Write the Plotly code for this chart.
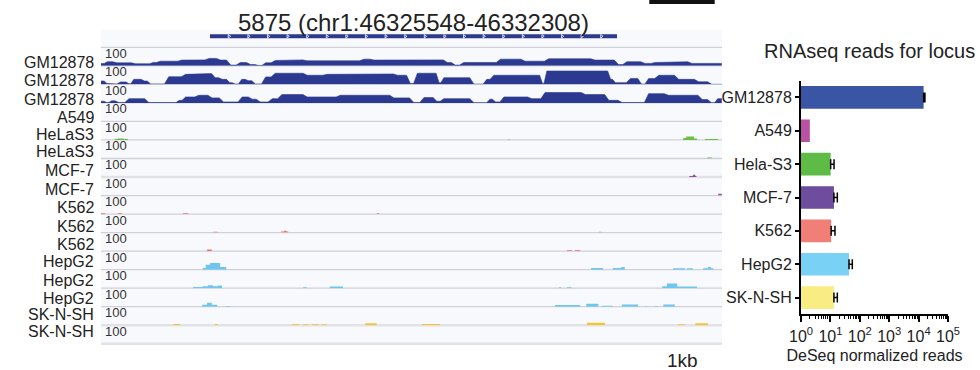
import numpy as np
import plotly.graph_objects as go

W, H = 980, 370
FONT = "Liberation Sans, Arial, sans-serif"

# ---------------- locus ----------------
LOCUS_ID = "5875"
CHROM = "chr1"
GENE_START = 46325548
GENE_END = 46332308
WINDOW_START = 46323738          # left edge of browser window
WINDOW_END = 46334052            # right edge of browser window
SCALE_LABEL = "1kb"

track_labels = ["GM12878", "GM12878", "GM12878", "A549", "HeLaS3", "HeLaS3",
                "MCF-7", "MCF-7", "K562", "K562", "K562",
                "HepG2", "HepG2", "HepG2", "SK-N-SH", "SK-N-SH"]
track_scale_max = 100

# dense coverage tracks: breakpoints (kb from window start) and value per interval
gm1_pos = [0.00, 0.07, 0.23, 0.54, 0.84, 0.95, 1.31, 1.59, 1.76, 1.95,
           2.12, 2.28, 2.45, 2.59, 2.70, 2.86, 3.08, 3.39, 4.33, 4.50,
           4.83, 5.05, 5.33, 5.72, 5.85, 5.99, 6.60, 6.79, 7.01, 7.40,
           8.17, 8.56, 8.70, 9.00, 9.17, 9.45, 9.78, 9.95, 10.11, 10.31]
gm1_val = [12, 22, 16, 11, 18, 25, 31, 32, 40, 31,
           4, 18, 7, 2, 16, 29, 32, 27, 36, 31,
           34, 31, 32, 18, 4, 18, 36, 36, 25, 38,
           31, 7, 22, 13, 18, 22, 13, 11, 13]

gm2_pos = [0.00, 0.07, 0.18, 0.29, 0.45, 0.51, 0.70, 0.79, 1.09, 1.37,
           1.64, 1.87, 1.98, 2.12, 2.20, 2.31, 2.42, 2.53, 2.70, 2.86,
           3.39, 3.72, 4.33, 4.89, 5.11, 5.22, 5.60, 5.66, 6.16, 6.38,
           6.49, 6.79, 7.32, 7.37, 8.45, 8.51, 8.76, 8.95, 9.06, 9.23,
           9.56, 9.89, 10.11, 10.31]
gm2_val = [18, 5, 2, 13, 3, 27, 18, 2, 41, 54,
           58, 36, 27, 9, 2, 27, 20, 2, 40, 60,
           49, 54, 56, 49, 5, 60, 9, 36, 1, 27,
           49, 49, 5, 72, 27, 9, 32, 1, 31, 49,
           27, 14, 0]

gm3_pos = [0.00, 0.07, 0.15, 0.26, 0.43, 0.76, 1.28, 1.37, 1.59, 1.81,
           2.00, 2.31, 2.48, 2.61, 2.81, 2.97, 3.39, 3.94, 4.83, 5.16,
           5.33, 5.55, 5.66, 6.16, 6.44, 6.52, 6.66, 6.79, 7.12, 7.34,
           8.01, 8.40, 8.62, 9.06, 9.39, 9.95, 10.11, 10.22, 10.31]
gm3_val = [9, 2, 11, 2, 23, 2, 14, 32, 41, 27,
           5, 32, 20, 5, 23, 45, 32, 41, 27, 2,
           29, 9, 23, 1, 20, 5, 32, 32, 23, 56,
           45, 14, 2, 50, 41, 18, 1, 23]

# sparse coverage tracks: (start kb, end kb, value)
a549_seg = []
hela1_seg = [(0.23, 0.28, 5), (0.28, 0.38, 8), (0.38, 0.45, 5), (6.76, 6.79, 3),
             (9.67, 9.72, 10), (9.72, 9.85, 18), (9.85, 9.90, 8), (10.03, 10.25, 5)]
hela2_seg = [(10.07, 10.15, 5)]
mcf1_seg = [(9.32, 9.37, 3), (9.77, 9.83, 5), (9.83, 9.87, 12), (9.87, 9.89, 5)]
mcf2_seg = [(4.50, 4.60, 4), (10.25, 10.31, 9)]
k1_seg = [(0.00, 0.07, 5), (0.28, 0.35, 4), (1.36, 1.45, 5), (4.58, 4.62, 5)]
k2_seg = [(1.68, 1.71, 4), (1.86, 1.94, 5), (2.99, 3.04, 6), (3.04, 3.08, 10),
          (3.08, 3.11, 6), (8.27, 8.31, 5)]
k3_seg = [(1.76, 1.84, 9), (7.74, 7.82, 5), (7.87, 7.96, 5)]
hep1_seg = [(1.69, 1.74, 9), (1.74, 1.81, 27), (1.81, 1.98, 36), (1.98, 2.08, 14),
            (8.14, 8.34, 9), (8.50, 8.64, 9), (8.64, 8.70, 14), (9.50, 9.70, 7),
            (9.73, 9.83, 7), (10.00, 10.08, 7), (10.08, 10.13, 14), (10.13, 10.17, 7)]
hep2_seg = [(1.53, 1.69, 7), (1.69, 1.78, 11), (1.78, 1.86, 16), (1.86, 1.94, 11),
            (1.94, 2.01, 14), (3.36, 3.42, 5), (3.80, 4.02, 9), (7.61, 7.64, 5),
            (7.74, 7.81, 5), (9.32, 9.40, 11), (9.40, 9.57, 25), (9.57, 9.90, 9)]
hep3_seg = [(1.68, 1.76, 11), (1.76, 1.84, 22), (1.84, 1.93, 11), (2.08, 2.14, 4),
            (7.54, 7.96, 9), (8.06, 8.26, 16), (8.32, 8.50, 5), (8.65, 8.92, 12),
            (9.04, 9.07, 4), (9.20, 9.25, 4), (9.34, 9.53, 12)]
sk1_seg = [(0.07, 0.10, 4), (1.20, 1.31, 7), (1.89, 1.94, 7), (3.17, 3.30, 5),
           (3.35, 3.45, 5), (3.50, 3.62, 5), (3.66, 3.75, 5), (4.39, 4.58, 11),
           (5.33, 5.63, 7), (7.43, 7.48, 4), (8.07, 8.37, 14), (9.58, 9.70, 5),
           (9.87, 10.08, 11)]
sk2_seg = []

# ---------------- bar chart data ----------------
bar_categories = ["GM12878", "A549", "Hela-S3", "MCF-7", "K562", "HepG2", "SK-N-SH"]
bar_values = [14800, 2.0, 10.2, 13.2, 10.6, 43, 13.2]
bar_err_plus = [1600, None, 3.1, 4.0, 3.7, 12.6, 4.0]
bar_colors = ["#3a55a3", "#b852a3", "#5dbb46", "#6e4c9e", "#f27e78", "#79d1f6", "#f8ec82"]
bar_ticks = [1, 10, 100, 1000, 10000, 100000]
bar_ticktext = ["10<sup>%d</sup>" % i for i in range(6)]

# ---------------- styles ----------------
C_GM = "#2b3990"
C_HELA = "#6cbf45"
C_MCF = "#93509e"
C_K = "#e8736b"
C_HEP = "#6ec5ef"
C_SK = "#f4c430"
track_colors = [C_GM, C_GM, C_GM, "#b852a3", C_HELA, C_HELA, C_MCF, C_MCF,
                C_K, C_K, C_K, C_HEP, C_HEP, C_HEP, C_SK, C_SK]

PX_L, PX_R = 101, 722          # browser panel
TRACK_TOP, TRACK_H = 47.3, 18.53
GENE_TOP = 30
label_y_px = [62.3, 80.5, 99.5, 117.3, 134.5, 151.7, 170, 189, 207.7, 226.7,
              244, 261.7, 280, 298, 314.5, 331]


def py(p):
    return 1 - p / H


def px(p):
    return p / W


win_kb = (WINDOW_END - WINDOW_START) / 1000
gene_s = (GENE_START - WINDOW_START) / 1000
gene_e = (GENE_END - WINDOW_START) / 1000

fig = go.Figure()
layout = dict(
    template="none", autosize=False,
    width=W, height=H, margin=dict(l=0, r=0, t=0, b=0, pad=0),
    paper_bgcolor="white", plot_bgcolor="rgba(0,0,0,0)",
    showlegend=False, font=dict(family=FONT, color="#222"),
    xaxis=dict(domain=[px(PX_L), px(PX_R)], range=[0, win_kb], visible=False,
               anchor="y", automargin=False),
)


def dense_xy(pos, val):
    # plateau per interval with short sloped shoulders (coverage look)
    xs, ys = [pos[0]], [val[0]]
    for a, b, v in zip(pos[:-1], pos[1:], val):
        d = min(0.035, (b - a) / 4)
        xs += [a + d, b - d]
        ys += [v, v]
    xs.append(pos[-1])
    ys.append(val[-1])
    return xs, ys


def sparse_xy(seg):
    xs, ys = [0.0], [0.0]
    for s, e, v in seg:
        xs += [s, s, e, e]
        ys += [0, v, v, 0]
    xs.append(win_kb)
    ys.append(0)
    return xs, ys


dense = {0: (gm1_pos, gm1_val), 1: (gm2_pos, gm2_val), 2: (gm3_pos, gm3_val)}
sparse = {3: a549_seg, 4: hela1_seg, 5: hela2_seg, 6: mcf1_seg, 7: mcf2_seg,
          8: k1_seg, 9: k2_seg, 10: k3_seg, 11: hep1_seg, 12: hep2_seg,
          13: hep3_seg, 14: sk1_seg, 15: sk2_seg}

shapes = []
annotations = []
shapes.append(dict(type="rect", xref="paper", yref="paper", x0=px(PX_L), x1=px(PX_R),
                   y0=py(TRACK_TOP + 16 * TRACK_H), y1=py(GENE_TOP),
                   fillcolor="#f8f9fc", line_width=0, layer="below"))

# boundary lines (drawn below the coverage)
for i in range(17):
    yy = TRACK_TOP + i * TRACK_H
    heavy = i in (7, 15, 16)
    shapes.append(dict(type="line", xref="paper", yref="paper", x0=px(PX_L), x1=px(PX_R),
                       y0=py(yy), y1=py(yy), layer="below",
                       line=dict(color="#e1e2e7" if heavy else "#d0d1d8",
                                 width=2.5 if heavy else 1.3)))

for i in range(16):
    top = TRACK_TOP + i * TRACK_H
    bot = top + TRACK_H
    yname = "yaxis%d" % (i + 2)
    layout[yname] = dict(domain=[py(bot), py(top)], range=[0, track_scale_max],
                         visible=False, anchor="x", automargin=False)
    if i in dense:
        xs, ys = dense_xy(*dense[i])
        lw = 0.6
    else:
        xs, ys = sparse_xy(sparse[i])
        lw = 0
    fig.add_trace(go.Scatter(x=xs, y=ys, mode="lines",
                             line=dict(width=lw, color=track_colors[i]),
                             fill="tozeroy", fillcolor=track_colors[i],
                             xaxis="x", yaxis="y%d" % (i + 2), hoverinfo="skip"))
    annotations.append(dict(x=px(102.5), y=py(top + 6), xref="paper", yref="paper",
                            text=str(track_scale_max), showarrow=False, xanchor="left",
                            yanchor="middle", font=dict(size=13, color="#333")))
    annotations.append(dict(x=px(96), y=py(label_y_px[i]), xref="paper", yref="paper",
                            text=track_labels[i], showarrow=False, xanchor="right",
                            yanchor="middle", font=dict(size=16, color="#222")))

# gene model
layout["yaxis18"] = dict(domain=[py(TRACK_TOP), py(GENE_TOP)], range=[0, 1],
                         visible=False, anchor="x", automargin=False)
fig.add_trace(go.Scatter(x=[gene_s, gene_e], y=[0.636, 0.636], mode="lines",
                         line=dict(color=C_GM, width=4), xaxis="x", yaxis="y18",
                         hoverinfo="skip"))
chev = np.arange(gene_s + 0.316, gene_e - 0.2, 0.3256)
fig.add_trace(go.Scatter(x=chev, y=[0.636] * len(chev), mode="markers",
                         marker=dict(symbol="triangle-right-open", size=3, color="white",
                                     line=dict(width=0.8, color="white")),
                         xaxis="x", yaxis="y18", hoverinfo="skip"))

annotations.append(dict(x=px(413), y=py(22), xref="paper", yref="paper",
                        text="%s (%s:%d-%d)" % (LOCUS_ID, CHROM, GENE_START, GENE_END),
                        showarrow=False, xanchor="center", yanchor="middle",
                        font=dict(size=24, color="#222")))
# scale bar
shapes.append(dict(type="rect", xref="paper", yref="paper", x0=px(649.3), x1=px(714.7),
                   y0=py(4), y1=1.0, fillcolor="#111", line_width=0))
annotations.append(dict(x=px(682), y=py(360), xref="paper", yref="paper",
                        text=SCALE_LABEL, showarrow=False, xanchor="center",
                        yanchor="middle", font=dict(size=19, color="#222")))

# ---------------- bar chart ----------------
fig.add_trace(go.Bar(x=bar_values, y=bar_categories, orientation="h",
                     marker=dict(color=bar_colors, line=dict(width=0)), width=0.68,
                     xaxis="x2", yaxis="y19", hoverinfo="skip"))
err_idx = [k for k, e in enumerate(bar_err_plus) if e is not None]
fig.add_trace(go.Scatter(x=[bar_values[k] for k in err_idx],
                         y=[bar_categories[k] for k in err_idx], mode="markers",
                         marker=dict(size=0.1, color="black", opacity=0),
                         error_x=dict(type="data", symmetric=False,
                                      array=[bar_err_plus[k] for k in err_idx],
                                      arrayminus=[0] * len(err_idx),
                                      color="black", thickness=1.5, width=5),
                         xaxis="x2", yaxis="y19", hoverinfo="skip"))

minor_vals = [m * 10 ** d for d in range(5) for m in range(2, 10)]
layout["xaxis2"] = dict(domain=[px(801), px(948)], type="log", range=[0, 5],
                        anchor="y19", showline=True, linecolor="black", linewidth=2,
                        ticks="outside", ticklen=6, tickwidth=1.5, tickcolor="black",
                        tickmode="array", tickvals=bar_ticks, ticktext=bar_ticktext,
                        tickfont=dict(size=16, color="#222"), showgrid=False,
                        zeroline=False, automargin=False,
                        minor=dict(ticks="outside", ticklen=3, tickwidth=1,
                                   tickcolor="black", tickmode="array",
                                   tickvals=minor_vals, showgrid=False),
                        title=dict(text="DeSeq normalized reads", standoff=6,
                                   font=dict(size=16, color="#222")))
layout["yaxis19"] = dict(domain=[py(314.3), py(80.7)], anchor="x2", type="category",
                         autorange="reversed", showline=True, linecolor="black",
                         linewidth=2, ticks="outside", ticklen=4, tickwidth=1.5,
                         tickcolor="black", tickfont=dict(size=16, color="#222"),
                         showgrid=False, zeroline=False, automargin=False)
annotations.append(dict(x=px(869), y=py(50.5), xref="paper", yref="paper",
                        text="RNAseq reads for locus", showarrow=False,
                        xanchor="center", yanchor="middle",
                        font=dict(size=20, color="#222")))

layout["shapes"] = shapes
layout["annotations"] = annotations
fig.update_layout(**layout)
fig.write_html("out.html")
